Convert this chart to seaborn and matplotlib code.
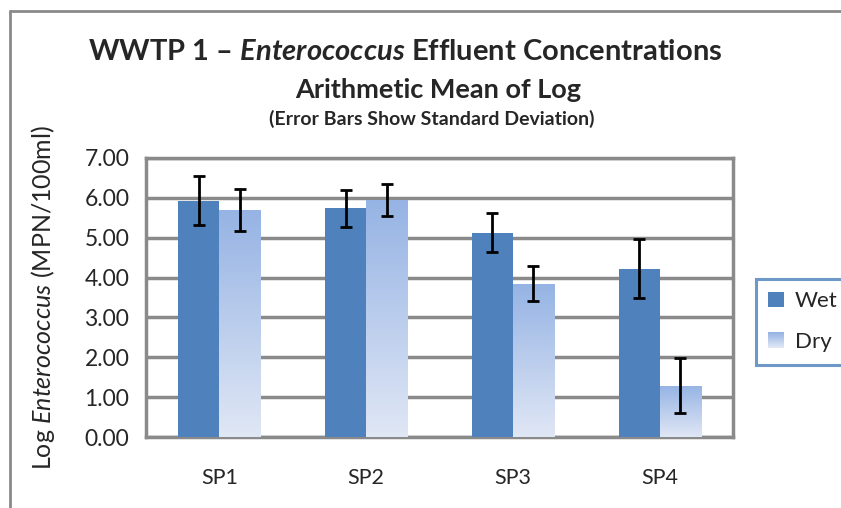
import numpy as np
import pandas as pd
import seaborn as sns
import matplotlib
matplotlib.use("Agg")
from matplotlib import pyplot as plt
from matplotlib.patches import Patch, Rectangle
from matplotlib.lines import Line2D
from matplotlib.legend_handler import HandlerBase

# data
sites = ["SP1", "SP2", "SP3", "SP4"]
wet_mean = [5.93, 5.74, 5.13, 4.22]
wet_sd = [0.62, 0.46, 0.49, 0.74]
dry_mean = [5.70, 5.95, 3.84, 1.29]
dry_sd = [0.52, 0.40, 0.44, 0.68]
yticks = [0, 1, 2, 3, 4, 5, 6, 7]

df = pd.DataFrame({
    "site": sites * 2,
    "season": ["Wet"] * 4 + ["Dry"] * 4,
    "mean": wet_mean + dry_mean,
    "sd": wet_sd + dry_sd,
})

sns.set_style("white")
plt.rcParams["font.family"] = ["Lato", "DejaVu Sans"]
plt.rcParams["mathtext.fontset"] = "custom"
plt.rcParams["mathtext.rm"] = "Lato"
plt.rcParams["mathtext.it"] = "Lato:italic"
plt.rcParams["mathtext.bf"] = "Lato:bold"
plt.rcParams["mathtext.bfit"] = "Lato:italic:bold"

wet_col = "#4f81bd"
dry_top = np.array([0x95, 0xb3, 0xe4]) / 255
dry_bot = np.array([0xe0, 0xe7, 0xf5]) / 255
grid_col = "#8a8a8a"


class GradientHandler(HandlerBase):
    # legend square with the same top-to-bottom fade as the dry bars
    def create_artists(self, legend, orig_handle, xdescent, ydescent, width, height, fontsize, trans):
        n = 16
        arts = []
        for k in range(n):
            t = k / (n - 1)
            c = dry_top * (1 - t) + dry_bot * t
            y = -ydescent + height * (1 - (k + 1) / n)
            arts.append(Rectangle((-xdescent, y), width, height / n + 0.3,
                                  facecolor=c, edgecolor="none", transform=trans))
        return arts


fig = plt.figure(figsize=(8.41, 5.08), dpi=100)
ax = fig.add_axes([146 / 841, 71 / 508, 587 / 841, 279 / 508])

sns.barplot(data=df, x="site", y="mean", hue="season", order=sites,
            hue_order=["Wet", "Dry"], palette=[wet_col, "#b5c8ec"],
            width=0.56, gap=0, errorbar=None, saturation=1,
            linewidth=0, legend=False, ax=ax, zorder=3)

# error bars + gradient fill for the dry bars
grad = np.linspace(0, 1, 256)[:, None, None]
grad_img = dry_top * (1 - grad) + dry_bot * grad
for i, p in enumerate(ax.patches):
    row = df.iloc[i]
    cx = p.get_x() + p.get_width() / 2
    ax.errorbar(cx, row["mean"], yerr=row["sd"], fmt="none", ecolor="black",
                elinewidth=2, capsize=4.5, capthick=2, zorder=5)
    if row["season"] == "Dry":
        im = ax.imshow(grad_img, extent=[p.get_x(), p.get_x() + p.get_width(), 0, p.get_height()],
                       aspect="auto", origin="upper", zorder=3)
        im.set_clip_path(p)
        p.set_facecolor("none")

ax.set_xlim(-0.5, 3.5)
ax.set_ylim(0, 7)
ax.set_yticks(yticks)
ax.set_yticklabels([f"{v:.2f}" for v in yticks], fontsize=16.5)
ax.set_xticks(range(4))
ax.set_xticklabels(sites, fontsize=15.5)
ax.set_xticks([-0.5, 0.5, 1.5, 2.5, 3.5], minor=True)
ax.tick_params(axis="x", which="major", length=0, pad=22)
ax.tick_params(axis="x", which="minor", length=7, width=2.5, color=grid_col, direction="out")
ax.tick_params(axis="y", length=7, width=2.5, color=grid_col, direction="out", pad=5)
ax.set_xlabel("")
ax.set_ylabel(r"Log $\mathit{Enterococcus}$ (MPN/100ml)", fontsize=18, labelpad=20)
ax.yaxis.grid(True, color=grid_col, linewidth=2.5, zorder=0)
ax.set_axisbelow(True)
for s in ax.spines.values():
    s.set_color(grid_col)
    s.set_linewidth(2.5)

# legend
wet_handle = Patch(facecolor=wet_col, edgecolor="none")
dry_handle = Patch(facecolor="#b5c8ec")
leg = fig.legend([wet_handle, dry_handle], ["Wet", "Dry"], loc="upper left",
                 handler_map={dry_handle: GradientHandler()},
                 bbox_to_anchor=(756 / 841, 1 - 279 / 508), borderaxespad=0, fontsize=16,
                 frameon=True, fancybox=False, handlelength=0.7, handleheight=0.7,
                 handletextpad=0.5, labelspacing=0.95, borderpad=0.55)
leg.get_frame().set_edgecolor("#4a7ebb")
leg.get_frame().set_linewidth(2.2)

# titles
fig.text(405 / 841, 1 - 52 / 508, r"WWTP 1 – $\mathbfit{Enterococcus}$ Effluent Concentrations",
         ha="center", va="center", fontsize=21, fontweight="bold")
fig.text(438 / 841, 1 - 90 / 508, "Arithmetic Mean of Log",
         ha="center", va="center", fontsize=19.5, fontweight="bold")
fig.text(432 / 841, 1 - 119 / 508, "(Error Bars Show Standard Deviation)",
         ha="center", va="center", fontsize=14, fontweight="bold")

# outer chart-area border (cropped on the right and bottom)
fig.add_artist(Line2D([10 / 841, 10 / 841], [0, 1 - 11 / 508], color="#8a8a8a", lw=2, transform=fig.transFigure))
fig.add_artist(Line2D([10 / 841, 1], [1 - 11 / 508, 1 - 11 / 508], color="#8a8a8a", lw=2, transform=fig.transFigure))

fig.savefig("out.png", dpi=100)
